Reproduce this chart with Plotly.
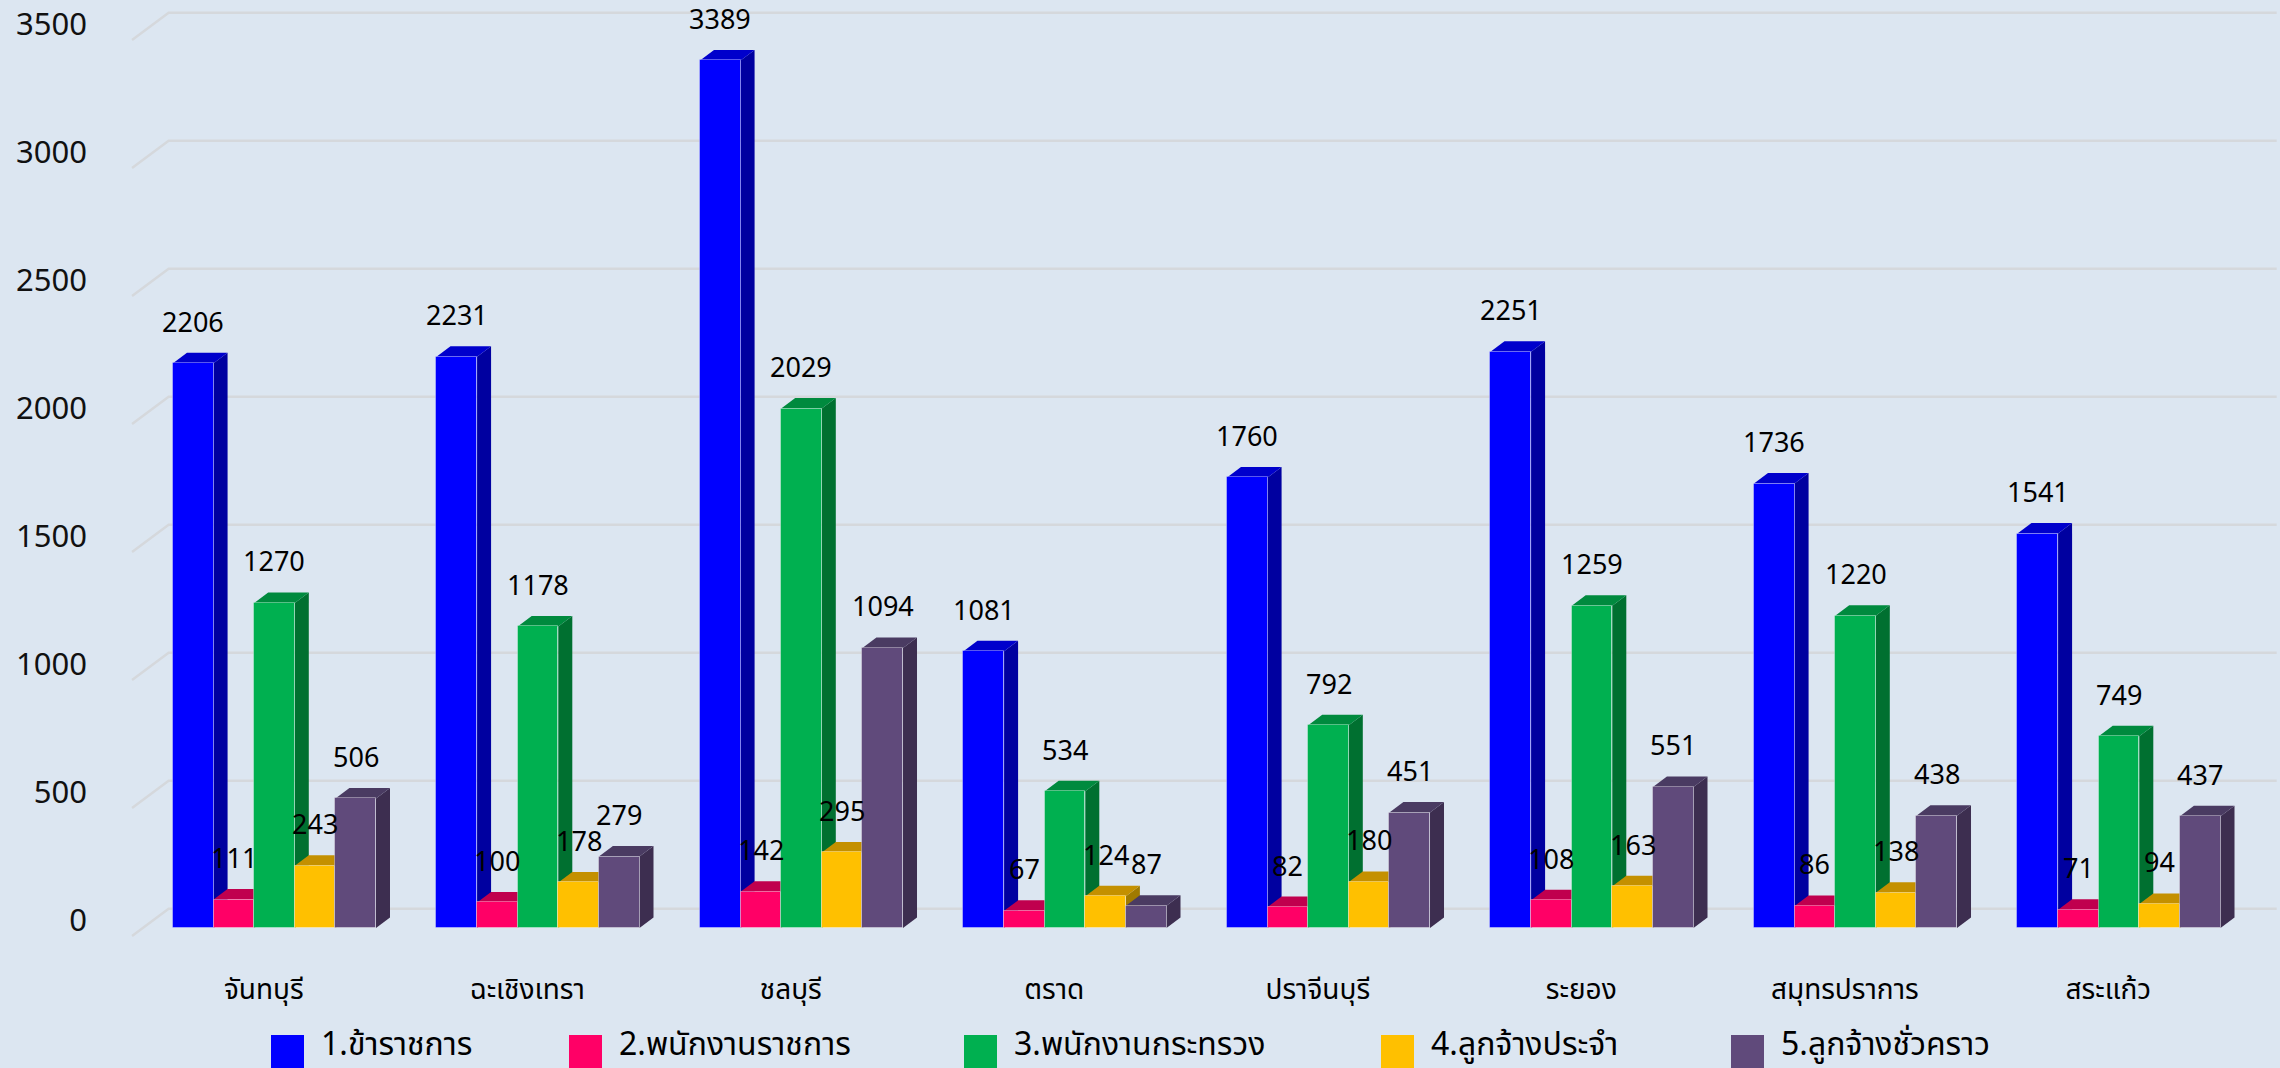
import plotly.graph_objects as go

# ---- data -------------------------------------------------------------
provinces = ["จันทบุรี", "ฉะเชิงเทรา", "ชลบุรี", "ตราด",
             "ปราจีนบุรี", "ระยอง", "สมุทรปราการ", "สระแก้ว"]

series_names = ["1.ข้าราชการ", "2.พนักงานราชการ", "3.พนักงานกระทรวง",
                "4.ลูกจ้างประจำ", "5.ลูกจ้างชั่วคราว"]

civil_servants = [2206, 2231, 3389, 1081, 1760, 2251, 1736, 1541]
gov_employees = [111, 100, 142, 67, 82, 108, 86, 71]
ministry_staff = [1270, 1178, 2029, 534, 792, 1259, 1220, 749]
permanent_staff = [243, 178, 295, 124, 180, 163, 138, 94]
temporary_staff = [506, 279, 1094, 87, 451, 551, 438, 437]

y_ticks = [0, 500, 1000, 1500, 2000, 2500, 3000, 3500]

series_values = [civil_servants, gov_employees, ministry_staff,
                 permanent_staff, temporary_staff]

# face colours of the pseudo-3D columns: front, top, side
front_colors = ["#0000FF", "#FF0066", "#00B050", "#FFC000", "#604A7B"]
top_colors = ["#0000CC", "#C0004E", "#008A3E", "#C49000", "#4A3B62"]
side_colors = ["#0000A0", "#A00040", "#007030", "#A07A00", "#3D2E50"]

# ---- geometry ---------------------------------------------------------
W, H = 2280, 1068
M_L, M_R, M_T, M_B = 120, 0, 0, 108
PLOT_W, PLOT_H = W - M_L - M_R, H - M_T - M_B
X_RANGE = [-0.5863, 7.6110]
Y_RANGE = [-125, 3625]
PX_X = PLOT_W / (X_RANGE[1] - X_RANGE[0])   # pixels per category
PX_Y = PLOT_H / (Y_RANGE[1] - Y_RANGE[0])   # pixels per unit

BAR_W = 0.1541                              # column width in category units
N_SER = len(series_values)


# oblique projection offsets (pixels -> data units)
def dx(px):
    return px / PX_X


def dy(px):
    return px / PX_Y


BAR_DX, BAR_DY = dx(14), dy(10.5)           # column depth
FRONT_DX, FRONT_DY = dx(-10.7), dy(-8)      # front edge of the floor
WALL_DX, WALL_DY = dx(25.9), dy(19.3)       # back wall

BG = "#DCE6F1"
GRID = "#D5D8DC"
FONT = "Noto Sans Thai, Noto Sans, Tahoma, sans-serif"

fig = go.Figure()
shapes = []

# grid lines: a short diagonal on the side wall, then along the back wall
x_left, x_right = -0.5, 7.5
for v in y_ticks:
    shapes.append(dict(
        type="path", xref="x", yref="y", layer="below",
        path=(f"M {x_left + FRONT_DX},{v + FRONT_DY} "
              f"L {x_left + WALL_DX},{v + WALL_DY} "
              f"L {x_right + WALL_DX},{v + WALL_DY}"),
        line=dict(color=GRID, width=2.5)))

# column fronts come from bar traces; sides and tops are projected faces
for k, (name, vals) in enumerate(zip(series_names, series_values)):
    offset = -N_SER / 2 * BAR_W + k * BAR_W
    fig.add_trace(go.Bar(
        x=list(range(len(provinces))), y=vals, name=name,
        offset=offset, width=BAR_W,
        marker=dict(color=front_colors[k],
                    line=dict(color="rgba(255,255,255,0.35)", width=1)),
        showlegend=False, hoverinfo="x+y+name"))

for i in range(len(provinces)):
    for k, vals in enumerate(series_values):
        h = vals[i]
        xl = i - N_SER / 2 * BAR_W + k * BAR_W
        xr = xl + BAR_W
        shapes.append(dict(
            type="path", xref="x", yref="y", layer="below",
            path=(f"M {xr},0 L {xr + BAR_DX},{BAR_DY} "
                  f"L {xr + BAR_DX},{h + BAR_DY} L {xr},{h} Z"),
            fillcolor=side_colors[k], line=dict(width=0)))
        shapes.append(dict(
            type="path", xref="x", yref="y", layer="below",
            path=(f"M {xl},{h} L {xr},{h} "
                  f"L {xr + BAR_DX},{h + BAR_DY} L {xl + BAR_DX},{h + BAR_DY} Z"),
            fillcolor=top_colors[k], line=dict(width=0)))

# value labels above each column
annotations = []
for i in range(len(provinces)):
    for k, vals in enumerate(series_values):
        xc = i - N_SER / 2 * BAR_W + (k + 0.5) * BAR_W
        annotations.append(dict(
            x=xc, y=vals[i], xref="x", yref="y", text=str(vals[i]),
            showarrow=False, yshift=40, yanchor="middle", xanchor="center",
            borderpad=0,
            font=dict(family=FONT, size=27, color="#000000")))

# legend row
legend_left_px = [271, 569, 964, 1381, 1731]
for k, name in enumerate(series_names):
    x0 = (legend_left_px[k] - M_L) / PLOT_W
    x1 = (legend_left_px[k] + 33 - M_L) / PLOT_W
    y0 = (PLOT_H - 1035) / PLOT_H
    y1 = (PLOT_H - 1068) / PLOT_H
    shapes.append(dict(type="rect", xref="paper", yref="paper",
                       x0=x0, x1=x1, y0=y0, y1=y1,
                       fillcolor=front_colors[k], line=dict(width=0)))
    annotations.append(dict(
        x=(legend_left_px[k] + 48 - M_L) / PLOT_W,
        y=(PLOT_H - 1045) / PLOT_H, xref="paper", yref="paper",
        text=name, showarrow=False, xanchor="left", yanchor="middle",
        font=dict(family=FONT, size=32, color="#000000")))

fig.update_layout(
    width=W, height=H,
    margin=dict(l=M_L, r=M_R, t=M_T, b=M_B, pad=0),
    paper_bgcolor=BG, plot_bgcolor=BG,
    bargap=0, barmode="overlay",
    shapes=shapes, annotations=annotations,
    font=dict(family=FONT, color="#000000"),
    xaxis=dict(range=X_RANGE, tickmode="array",
               tickvals=[i + FRONT_DX for i in range(len(provinces))],
               ticktext=provinces, showgrid=False, zeroline=False,
               showline=False, ticks="", ticklabelstandoff=10,
               tickfont=dict(family=FONT, size=28, color="#000000")),
    yaxis=dict(range=Y_RANGE, tickmode="array", tickvals=y_ticks,
               ticktext=[str(v) for v in y_ticks], showgrid=False,
               zeroline=False, showline=False, ticks="",
               ticklabelstandoff=32, ticklabelshift=-8,
               tickfont=dict(family=FONT, size=31, color="#111111")),
)

fig.write_html("out.html")
